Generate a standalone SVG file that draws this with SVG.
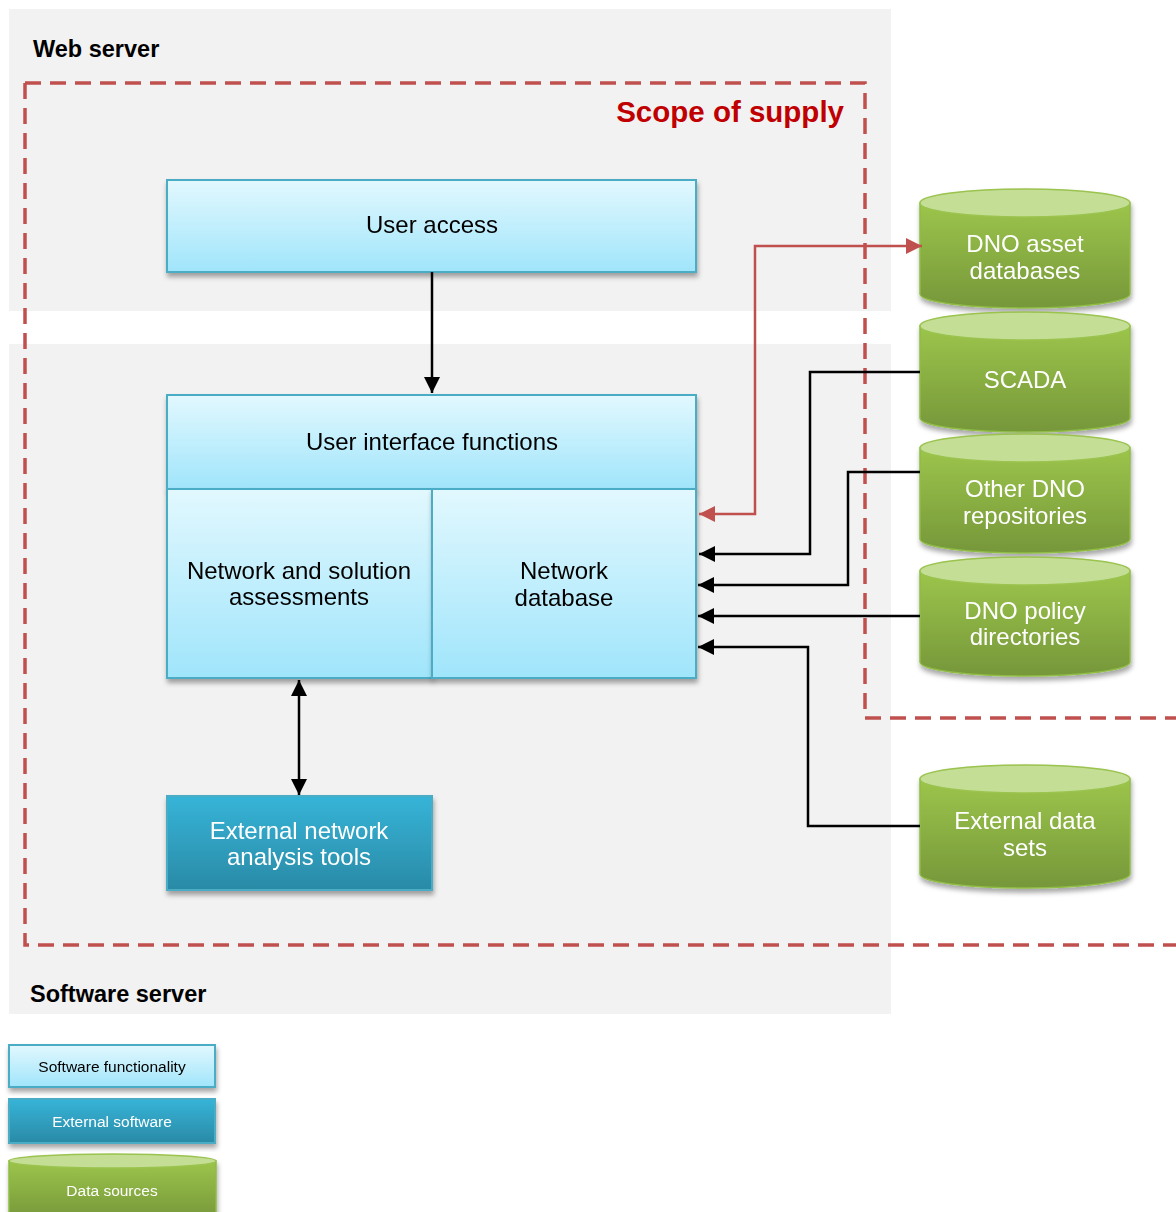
<svg xmlns="http://www.w3.org/2000/svg" width="1176" height="1212" viewBox="0 0 1176 1212">
<defs>
<linearGradient id="gLight" x1="0" y1="0" x2="0" y2="1"><stop offset="0" stop-color="#e2f8fe"/><stop offset="1" stop-color="#a0e5fb"/></linearGradient>
<linearGradient id="gDark" x1="0" y1="0" x2="0" y2="1"><stop offset="0" stop-color="#36b4d8"/><stop offset="1" stop-color="#2a8aa6"/></linearGradient>
<linearGradient id="gGreen" x1="0" y1="0" x2="0" y2="1"><stop offset="0" stop-color="#9cc54b"/><stop offset="1" stop-color="#76973a"/></linearGradient>
<filter id="sh" x="-10%" y="-10%" width="125%" height="130%"><feDropShadow dx="1" dy="4" stdDeviation="2.5" flood-color="#000" flood-opacity="0.35"/></filter>
<marker id="aB" viewBox="0 0 10 10" refX="10" refY="5" markerWidth="6.5" markerHeight="6.5" orient="auto-start-reverse" markerUnits="strokeWidth"><path d="M0,0 L10,5 L0,10 z" fill="#000"/></marker>
<marker id="aR" viewBox="0 0 10 10" refX="10" refY="5" markerWidth="6.5" markerHeight="6.5" orient="auto-start-reverse" markerUnits="strokeWidth"><path d="M0,0 L10,5 L0,10 z" fill="#c0504d"/></marker>
<style>
.panel{fill:#f2f2f2}
.lbl{font-family:"Liberation Sans",Arial,sans-serif;font-weight:bold;font-size:23.5px;fill:#000}
.light{fill:url(#gLight);stroke:#4bacc6;stroke-width:2}
.dark{fill:url(#gDark);stroke:#4bacc6;stroke-width:2}
.t{font-family:"Liberation Sans",Arial,sans-serif;font-size:24px;text-anchor:middle;fill:#000}
.tw{font-family:"Liberation Sans",Arial,sans-serif;font-size:24px;text-anchor:middle;fill:#fff}
.cb{fill:url(#gGreen);stroke:#8fbc45;stroke-width:1.5}
.ct{fill:#c4df95;stroke:#9bc34f;stroke-width:1.5}
.ln{fill:none;stroke:#000;stroke-width:2.5}
.lr{fill:none;stroke:#c0504d;stroke-width:2.5}
.scope{fill:none;stroke:#c0504d;stroke-width:3.5;stroke-dasharray:16 9}
</style>
</defs>
<rect width="1176" height="1212" fill="#fff"/>
<rect class="panel" x="9" y="9" width="882" height="302"/>
<rect class="panel" x="9" y="344" width="882" height="670"/>
<text class="lbl" x="33" y="57">Web server</text>
<text class="lbl" x="30" y="1002">Software server</text>
<path class="scope" d="M25,83 H865 V718 H1176 M25,83 V945 H1176"/>
<text x="844" y="122" text-anchor="end" font-family="Liberation Sans,Arial,sans-serif" font-weight="bold" font-size="29.5" fill="#c00000">Scope of supply</text>

<g id="user-access" filter="url(#sh)">
<rect class="light" x="167" y="180" width="529" height="92"/>
<text class="t" x="432" y="233">User access</text>
</g>
<g id="ui-functions" filter="url(#sh)">
<rect class="light" x="167" y="395" width="529" height="94"/>
<text class="t" x="432" y="450">User interface functions</text>
</g>
<g id="assessments" filter="url(#sh)">
<rect class="light" x="167" y="489" width="265" height="189"/>
<text class="t" x="299" y="579">Network and solution</text>
<text class="t" x="299" y="605">assessments</text>
</g>
<g id="network-db" filter="url(#sh)">
<rect class="light" x="432" y="489" width="264" height="189"/>
<text class="t" x="564" y="579">Network</text>
<text class="t" x="564" y="606">database</text>
</g>
<g id="ext-tools" filter="url(#sh)">
<rect class="dark" x="167" y="796" width="265" height="94"/>
<text class="tw" x="299" y="839">External network</text>
<text class="tw" x="299" y="865">analysis tools</text>
</g>

<g id="dno-asset" filter="url(#sh)">
<path class="cb" d="M920,203 V294 A105,14 0 0 0 1130,294 V203 Z"/>
<ellipse class="ct" cx="1025" cy="203" rx="105" ry="14"/>
<text class="tw" x="1025" y="252">DNO asset</text>
<text class="tw" x="1025" y="279">databases</text>
</g>
<g id="scada" filter="url(#sh)">
<path class="cb" d="M920,326 V418 A105,14 0 0 0 1130,418 V326 Z"/>
<ellipse class="ct" cx="1025" cy="326" rx="105" ry="14"/>
<text class="tw" x="1025" y="388">SCADA</text>
</g>
<g id="other-dno" filter="url(#sh)">
<path class="cb" d="M920,448 V539 A105,14 0 0 0 1130,539 V448 Z"/>
<ellipse class="ct" cx="1025" cy="448" rx="105" ry="14"/>
<text class="tw" x="1025" y="497">Other DNO</text>
<text class="tw" x="1025" y="524">repositories</text>
</g>
<g id="dno-policy" filter="url(#sh)">
<path class="cb" d="M920,571 V662 A105,14 0 0 0 1130,662 V571 Z"/>
<ellipse class="ct" cx="1025" cy="571" rx="105" ry="14"/>
<text class="tw" x="1025" y="619">DNO policy</text>
<text class="tw" x="1025" y="645">directories</text>
</g>
<g id="ext-data" filter="url(#sh)">
<path class="cb" d="M920,779 V874 A105,14 0 0 0 1130,874 V779 Z"/>
<ellipse class="ct" cx="1025" cy="779" rx="105" ry="14"/>
<text class="tw" x="1025" y="829">External data</text>
<text class="tw" x="1025" y="856">sets</text>
</g>

<g id="connectors">
<path class="ln" d="M432,272 V393" marker-end="url(#aB)"/>
<path class="ln" d="M299,680 V795" marker-start="url(#aB)" marker-end="url(#aB)"/>
<path class="lr" d="M699,514 H755 V246 H922" marker-start="url(#aR)" marker-end="url(#aR)"/>
<path class="ln" d="M920,372 H810 V554 H699" marker-end="url(#aB)"/>
<path class="ln" d="M920,472 H848 V585 H698" marker-end="url(#aB)"/>
<path class="ln" d="M920,616 H698" marker-end="url(#aB)"/>
<path class="ln" d="M920,826 H808 V647 H698" marker-end="url(#aB)"/>
</g>

<g id="legend-software" filter="url(#sh)">
<rect class="light" x="9" y="1045" width="206" height="42"/>
<text x="112" y="1072" text-anchor="middle" font-family="Liberation Sans,Arial,sans-serif" font-size="15.5" fill="#000">Software functionality</text>
</g>
<g id="legend-external" filter="url(#sh)">
<rect class="dark" x="9" y="1099" width="206" height="44"/>
<text x="112" y="1127" text-anchor="middle" font-family="Liberation Sans,Arial,sans-serif" font-size="15.5" fill="#fff">External software</text>
</g>
<g id="legend-data" filter="url(#sh)">
<path class="cb" d="M9,1161 V1220 H216 V1161 Z"/>
<ellipse class="ct" cx="112.5" cy="1161" rx="103.5" ry="7"/>
<text x="112" y="1196" text-anchor="middle" font-family="Liberation Sans,Arial,sans-serif" font-size="15.5" fill="#fff">Data sources</text>
</g>
</svg>
